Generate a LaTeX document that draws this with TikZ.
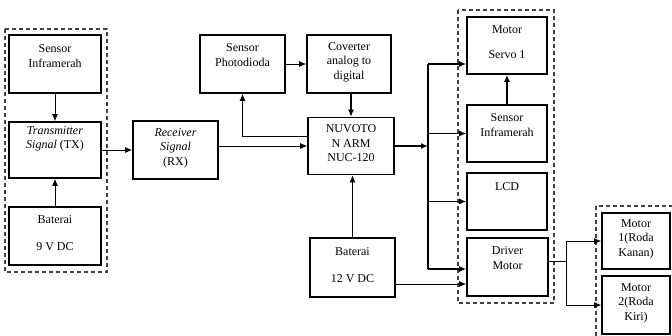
\documentclass[tikz,border=0pt]{standalone}
\usepackage{fontspec}
\setmainfont{Liberation Serif}
\usetikzlibrary{arrows.meta,calc}

\tikzset{
  blok/.style={draw, line width=1.6pt, minimum width=#1, minimum height=57pt, inner sep=0pt},
  blok/.default=85pt,
  isi/.style 2 args={label={[align=center, font=\fontsize{12pt}{14.5pt}\selectfont, yshift=#1]center:{#2}}},
  panah/.style={-{Latex[length=7pt,width=6pt]}, line width=0.9pt},
  tebal/.style={line width=1.3pt},
  grup/.style={draw=black!75, line width=1.2pt, dash pattern=on 4pt off 3pt}
}

\begin{document}
\begin{tikzpicture}[x=1pt, y=-1pt]
    \useasboundingbox (0,0) rectangle (672,335);
    \clip (0,0) rectangle (672,335);

    % Dashed groups
    \draw[grup] (5,29) rectangle (107,272);
    \draw[grup] (458,10) rectangle (554,303);
    \draw[grup] (596,206) rectangle (690,350);

    % Transmitter side
    \node[blok=92pt, minimum height=58pt, isi={8pt}{Sensor\\Inframerah}] (sensorL) at (55,64) {};
    \node[blok=92pt, minimum height=56pt, isi={11pt}{\textit{Transmitter}\\\textit{Signal} (TX)}] (trans) at (55,150) {};
    \node[blok=92pt, minimum height=58pt, isi={3pt}{Baterai\\[12pt]9 V DC}] (bat9) at (55,236) {};
    \node[blok, minimum height=58pt, isi={2pt}{\textit{Receiver}\\\textit{Signal}\\(RX)}] (recv) at (175.5,150) {};

    % Controller
    \node[blok, minimum height=58pt, isi={9pt}{Sensor\\Photodioda}] (photo) at (242.5,64) {};
    \node[blok=84pt, minimum height=58pt, isi={2pt}{Coverter\\analog to\\digital}] (conv) at (349,64) {};
    \node[blok=86pt, isi={2.5pt}{NUVOTO\\N ARM\\NUC-120}] (nuvo) at (351,146) {};
    \node[blok, minimum height=59pt, isi={2.5pt}{Baterai\\[13pt]12 V DC}] (bat12) at (352.5,267.5) {};

    % Outputs
    \node[blok=80pt, isi={3.5pt}{Motor\\[11pt]Servo 1}] (servo) at (507,45.5) {};
    \node[blok=80pt, isi={8.5pt}{Sensor\\Inframerah}] (sensorR) at (507,133.5) {};
    \node[blok=80pt, isi={14.5pt}{LCD}] (lcd) at (507,201.5) {};
    \node[blok=81pt, minimum height=58pt, isi={9pt}{Driver\\Motor}] (driver) at (507.5,267) {};
    \node[blok=68pt, minimum height=56pt, isi={2pt}{Motor\\1(Roda\\Kanan)}] (motor1) at (636,241) {};
    \node[blok=68pt, minimum height=58pt, isi={2pt}{Motor\\2(Roda\\Kiri)}] (motor2) at (636,305) {};

    % Connectors left
    \draw[panah] (sensorL) -- (trans);
    \draw[panah] (bat9) -- (trans);
    \draw[panah] (trans.east) -- (trans.east -| recv.west);
    \draw[panah] (recv.east |- nuvo.west) -- (nuvo.west);

    % Connectors around controller
    \draw[panah] ([yshift=10pt]nuvo.west) -| (photo.south);
    \draw[panah] (photo) -- (conv);
    \draw[panah, tebal] (nuvo.north |- conv.south) -- (nuvo.north);
    \draw[panah, tebal] (bat12.north) -- (bat12.north |- nuvo.south);
    \draw[panah] ([yshift=-16.5pt]bat12.east) coordinate (b12) -- (b12 -| driver.west);

    % Bus to outputs
    \coordinate (busA) at (428,64);
    \coordinate (busB) at (428,269);
    \draw[panah, tebal] (nuvo.east) -- (nuvo.east -| busA);
    \draw[tebal] (busA) -- (busB);
    \draw[panah, tebal] (busA) -- (busA -| servo.west);
    \draw[panah, tebal] (busA |- sensorR.west) -- (sensorR.west);
    \draw[panah, tebal] (busA |- lcd.west) -- (lcd.west);
    \draw[panah, tebal] (busB) -- (busB -| driver.west);
    \draw[panah, tebal] (sensorR) -- (servo);

    % Driver to wheels
    \coordinate (cabang) at (566,261);
    \draw[line width=0.9pt] ([yshift=6pt]driver.east) -- (cabang);
    \draw[panah] (cabang) |- (motor1.west);
    \draw[panah] (cabang) |- (motor2.west);
\end{tikzpicture}
\end{document}
